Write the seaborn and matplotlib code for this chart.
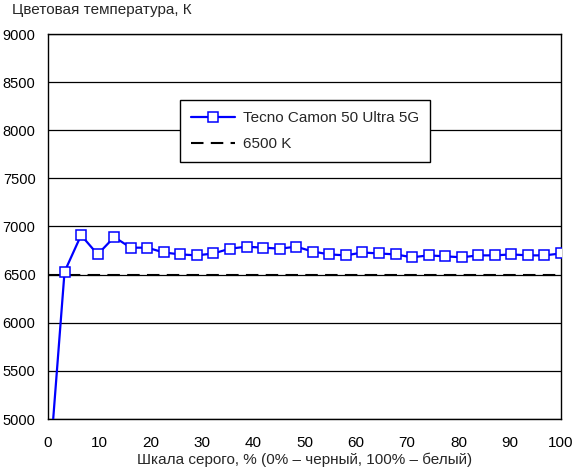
import numpy as np
import matplotlib
matplotlib.use('Agg')
import matplotlib.pyplot as plt
import seaborn as sns

# gray scale steps (% of white) and measured color temperature, K
gray_pct = [i * 100 / 31 for i in range(32)]
temp_k = [4300, 6530, 6910, 6710, 6890, 6780, 6780, 6730, 6710, 6700,
          6720, 6770, 6790, 6780, 6770, 6790, 6740, 6710, 6700, 6730,
          6720, 6710, 6680, 6700, 6690, 6680, 6700, 6700, 6710, 6700,
          6700, 6720]
ref_temp = 6500
series_name = 'Tecno Camon 50 Ultra 5G'
ref_name = '6500 K'
x_ticks = list(range(0, 101, 10))
y_ticks = list(range(5000, 9001, 500))

sns.set_style('white')
plt.rcParams['font.family'] = ['Liberation Sans', 'DejaVu Sans']

fig = plt.figure(figsize=(5.74, 4.69), dpi=100)
ax = fig.add_axes([48 / 574, 1 - 419 / 469, 513 / 574, 385 / 469])

sns.lineplot(x=gray_pct, y=temp_k, ax=ax, color='#0000ff', linewidth=1.6,
             marker='s', markersize=7, markerfacecolor='white',
             markeredgecolor='#0000ff', markeredgewidth=1.1,
             label=series_name, zorder=3)
ax.axhline(ref_temp, color='black', linestyle=(0, (6, 3.5)), linewidth=1.5,
           label=ref_name, zorder=2)

ax.set_xlim(0, 100)
ax.set_ylim(5000, 9000)
ax.set_xticks(x_ticks)
ax.set_yticks(y_ticks)
ax.yaxis.grid(True, color='black', linewidth=0.9)
ax.xaxis.grid(False)
for s in ax.spines.values():
    s.set_color('black')
    s.set_linewidth(1.0)
ax.tick_params(axis='both', direction='out', length=5, width=0.9,
               color='black', labelsize=11, labelcolor='black')
ax.tick_params(axis='x', pad=7)
ax.tick_params(axis='y', pad=4, labelsize=10.5)

ax.set_xlabel('Шкала серого, % (0% – черный, 100% – белый)', fontsize=11,
              labelpad=2)
ax.set_ylabel('')
fig.text(12 / 574, 1 - 10 / 469, 'Цветовая температура, К', fontsize=11,
         va='center', ha='left')

leg = ax.legend(loc='center', bbox_to_anchor=(0.501, 0.748), fontsize=11,
                frameon=True, fancybox=False, framealpha=1, edgecolor='black',
                handlelength=2.9, handletextpad=0.5, labelspacing=0.8,
                borderpad=0.7, borderaxespad=0)
leg.get_frame().set_linewidth(1.0)
leg.set_zorder(5)

fig.savefig('out.png', dpi=100)
